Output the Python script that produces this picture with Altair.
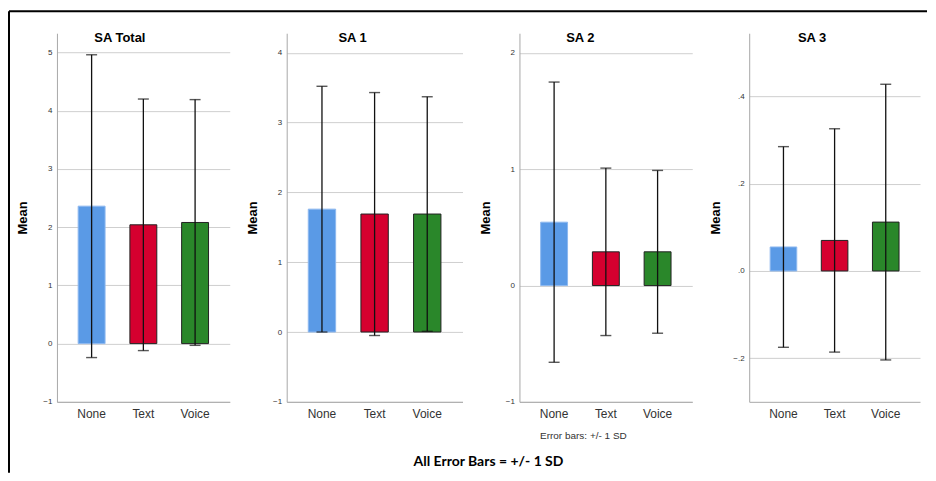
import altair as alt
import pandas as pd

groups = ["None", "Text", "Voice"]
fill_colors = ["#5a9ae6", "#d5002f", "#2a872a"]
stroke_colors = ["#8db8ef", "#222222", "#222222"]

titles = ["SA Total", "SA 1", "SA 2", "SA 3"]

sa_total_mean = [2.36, 2.04, 2.08]
sa_total_sd = [2.60, 2.16, 2.11]
sa1_mean = [1.76, 1.69, 1.69]
sa1_sd = [1.76, 1.74, 1.68]
sa2_mean = [0.545, 0.29, 0.29]
sa2_sd = [1.205, 0.72, 0.70]
sa3_mean = [0.055, 0.07, 0.112]
sa3_sd = [0.23, 0.256, 0.316]

y_domains = [[-1, 5.33], [-1, 4.28], [-1, 2.17], [-0.3, 0.545]]
y_ticks = [[-1, 0, 1, 2, 3, 4, 5], [-1, 0, 1, 2, 3, 4], [-1, 0, 1, 2], [-0.2, 0, 0.2, 0.4]]

subtitle_note = "Error bars: +/- 1 SD"
footer_note = "All Error Bars = +/- 1 SD"

FONT = "Liberation Sans"
widths = [173, 176, 173, 171]
title_xs = [63, 66, 61, 63]
HEIGHT = 369


def panel(i, means, sds):
    df = pd.DataFrame({"group": groups, "mean": means, "sd": sds})
    df["lo"] = df["mean"] - df["sd"]
    df["hi"] = df["mean"] + df["sd"]

    if i == 3:
        yaxis = alt.Axis(values=y_ticks[i], format=".1f",
                         labelExpr="replace(datum.label, '0.', '.')", title="Mean")
    else:
        yaxis = alt.Axis(values=y_ticks[i], format="d", title="Mean")

    ysc = alt.Scale(domain=y_domains[i], nice=False, zero=False)
    xenc = alt.X("group:N", sort=groups,
                 scale=alt.Scale(paddingInner=0.48, paddingOuter=0.41),
                 axis=alt.Axis(title=None, labelAngle=0))
    base = alt.Chart(df)
    bars = base.mark_bar(strokeWidth=1).encode(
        x=xenc,
        y=alt.Y("mean:Q", scale=ysc, axis=yaxis),
        fill=alt.Fill("group:N", scale=alt.Scale(domain=groups, range=fill_colors), legend=None),
        stroke=alt.Stroke("group:N", scale=alt.Scale(domain=groups, range=stroke_colors), legend=None),
    )
    rules = base.mark_rule(color="#111111", strokeWidth=1.3).encode(
        x=alt.X("group:N", sort=groups), y="lo:Q", y2="hi:Q")
    cap_hi = base.mark_tick(color="#111111", size=11, thickness=1.4).encode(
        x=alt.X("group:N", sort=groups), y="hi:Q")
    cap_lo = base.mark_tick(color="#111111", size=11, thickness=1.4).encode(
        x=alt.X("group:N", sort=groups), y="lo:Q")
    ttl = alt.Chart(pd.DataFrame({"t": [titles[i]]})).mark_text(
        font=FONT, fontSize=13, fontWeight="bold", color="#000000", baseline="middle"
    ).encode(text="t:N", x=alt.value(title_xs[i]), y=alt.value(5))

    layers = [bars, rules, cap_hi, cap_lo, ttl]

    if i == 0:
        fdf = pd.DataFrame({"k": [0]})
        frame_v = alt.Chart(fdf).mark_rule(color="#000000", strokeWidth=2).encode(
            x=alt.value(-48), y=alt.value(-22), y2=alt.value(440))
        frame_h = alt.Chart(fdf).mark_rule(color="#000000", strokeWidth=2).encode(
            x=alt.value(-48), x2=alt.value(871), y=alt.value(-22))
        layers += [frame_v, frame_h]
    if i == 2:
        sub = alt.Chart(pd.DataFrame({"t": [subtitle_note]})).mark_text(
            font=FONT, fontSize=10, color="#333333", baseline="middle"
        ).encode(text="t:N", x=alt.value(64), y=alt.value(403))
        foot = alt.Chart(pd.DataFrame({"t": [footer_note]})).mark_text(
            font="Lato", fontSize=14, fontWeight="bold", color="#000000", baseline="middle"
        ).encode(text="t:N", x=alt.value(-31), y=alt.value(429))
        layers += [sub, foot]

    return alt.layer(*layers).properties(width=widths[i], height=HEIGHT)


p0 = panel(0, sa_total_mean, sa_total_sd)
p1 = panel(1, sa1_mean, sa1_sd)
p2 = panel(2, sa2_mean, sa2_sd)
p3 = panel(3, sa3_mean, sa3_sd)

chart = alt.hconcat(p0, p1, p2, p3, spacing=57, bounds="flush").properties(
    padding={"left": 0, "top": 2, "right": 0, "bottom": 0},
    background="#ffffff",
).configure_view(strokeWidth=0).configure_axis(
    labelFont=FONT, titleFont=FONT, domainColor="#a8a8a8", domainWidth=1,
    ticks=False, tickSize=0, gridColor="#cfcfcf", gridWidth=1,
).configure_axisY(
    labelFontSize=8, labelColor="#333333", labelPadding=5, grid=True,
    titleFontSize=13, titleFontWeight="bold", titleColor="#000000",
    minExtent=16, maxExtent=16, titlePadding=11,
).configure_axisX(
    labelFontSize=12, labelColor="#333333", labelPadding=7, grid=False,
)

chart.save("out.html", embed_options={"renderer": "svg", "actions": False})
